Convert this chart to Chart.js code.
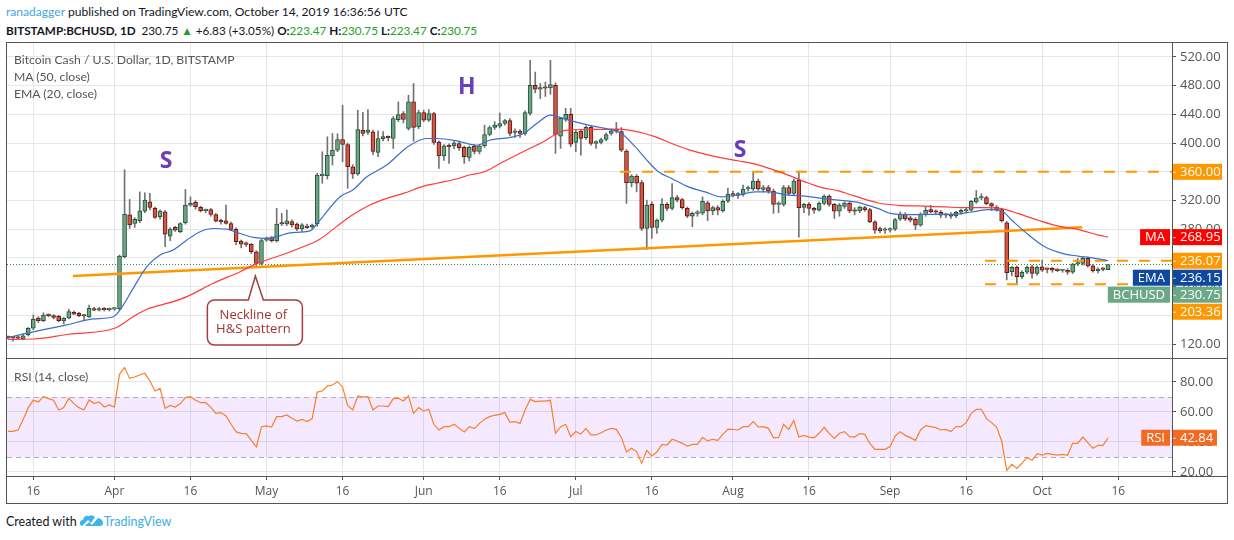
<!doctype html>
<html lang="en">
<head>
<meta charset="UTF-8" />
<title>Bitcoin Cash / U.S. Dollar, 1D, BITSTAMP</title>
<script src="https://cdn.jsdelivr.net/npm/chart.js"></script>
<style>
    body { margin: 0; width: 1234px; height: 540px; background: #fff; position: relative; overflow: hidden;
           font-family: Lato, "Noto Sans", sans-serif; color: #131722; }
    .t { position: absolute; white-space: nowrap; font-size: 12px; line-height: 16px; }
    .legend { color: #555; font-size: 12.2px; }
    .g { color: #21a121; }
    b { font-weight: bold; }
    .line { position: absolute; background: #555; }
    #frame { position: absolute; left: 6px; top: 42px; width: 1220px; height: 460px; border: 1px solid #555; }
    canvas { position: absolute; }
    #price { left: 7px; top: 43px; }
    #rsi { left: 7px; top: 359px; }
</style>
</head>
<body>
    <div class="t" style="left:6px;top:4px;font-size:12.1px"><span style="color:#45a5e2">ranadagger</span> published on TradingView.com, October 14, 2019 16:36:56 UTC</div>
    <div class="t" style="left:6px;top:22px;font-size:11.7px"><b>BITSTAMP:BCHUSD, 1D</b>&nbsp; 230.75 <span class="g">&#9650;</span> +6.83 (+3.05%) <b>O:</b><span class="g">223.47</span> <b>H:</b><span class="g">230.75</span> <b>L:</b><span class="g">223.47</span> <b>C:</b><span class="g">230.75</span></div>

    <div id="frame"></div>
    <canvas id="price" width="1221" height="315"></canvas>
    <canvas id="rsi" width="1221" height="144"></canvas>
    <div class="line" style="left:6px;top:358px;width:1222px;height:1px"></div>
    <div class="line" style="left:6px;top:476px;width:1222px;height:1px"></div>

    <div class="t legend" style="left:14px;top:52px">Bitcoin Cash / U.S. Dollar, 1D, BITSTAMP</div>
    <div class="t legend" style="left:14px;top:69px">MA (50, close)</div>
    <div class="t legend" style="left:14px;top:86px">EMA (20, close)</div>
    <div class="t legend" style="left:14px;top:369px">RSI (14, close)</div>

    <div class="t" style="left:6px;top:514px;font-size:12.5px">Created with
        <svg width="24" height="14" viewBox="0 0 24 14" style="vertical-align:-2px">
            <path d="M2 12 Q0 12 0 9 Q0 6 3 6 Q4 1 9 2 Q12 0 15 3 L11 9 L8 6 L3 11 Z" fill="#3cb4e5" />
            <path d="M5 12 L9 8 L12 11 L18 4 Q23 5 23 9 Q23 12 20 12 Z" fill="#3cb4e5" />
        </svg><span style="color:#3bb0e2">TradingView</span></div>

<script>
    // Days are counted from Mar 11, 2019 (day 0) to Oct 14, 2019 (day 217).
    const tickDays = [5, 21, 36, 51, 66, 82, 97, 112, 127, 143, 158, 174, 189, 204, 219];
    const tickLabels = ['16', 'Apr', '16', 'May', '16', 'Jun', '16', 'Jul', '16', 'Aug', '16', 'Sep', '16', 'Oct', '16'];
    const priceTicks = [120, 160, 200, 240, 280, 320, 360, 400, 440, 480, 520];
    const rsiTicks = [20, 40, 60, 80];

    const opens = [
        129.5, 129, 128.5, 127, 132.6, 141.9, 156, 152.6, 160, 159.5,
        158.6, 152.2, 156, 164, 162.8, 160, 157.8, 169.3, 167, 169.5,
        168, 168.6, 169, 241.7, 300, 288, 291.8, 305.2, 318.2, 309,
        297.4, 304.3, 270.4, 282.5, 276.7, 289, 313.6, 317.3, 310.4, 306,
        307.5, 300.5, 291.8, 291.8, 288, 279.7, 263.5, 259.3, 258.8, 248.6,
        232.4, 264.8, 268.3, 264.1, 289.2, 287.3, 290.5, 287.3, 280.4, 284.5,
        283, 287.3, 354.5, 354.5, 382, 390.2, 405, 398, 367, 357,
        418, 414.8, 415.7, 387, 406, 408, 406.4, 432.5, 441.2, 420.3,
        457.4, 422.7, 442.6, 431.9, 441.2, 400.9, 382.3, 396.2, 396.2, 399.5,
        394, 380, 395.8, 388.4, 396.2, 412, 421.7, 423.6, 427.3, 431.5,
        414.8, 416.7, 413.4, 441.2, 480.6, 475, 477.3, 476.9, 480.6, 409.8,
        433.5, 440, 401, 416.7, 407.4, 422, 399.5, 401, 405, 413.5,
        418, 416, 389, 345, 354, 345, 281, 314.5, 282.4, 292.6,
        314.5, 309, 324, 321.4, 309, 298, 302, 302.5, 316.8, 305.6,
        310, 305.6, 319, 329, 327.5, 328.6, 336, 336, 347, 335.6,
        338, 333, 314.5, 314.5, 338, 330, 348.4, 310.5, 314.5, 309,
        306.5, 316, 326, 314.5, 305, 311.9, 316.5, 306.4, 305.4, 310,
        307.3, 290.2, 281, 278.6, 278.6, 280, 293.9, 300.8, 295.7, 293.9,
        285.6, 300.3, 307.3, 305.4, 303.6, 300.3, 300.3, 298.5, 303.6, 305.4,
        306.4, 318, 323.5, 324, 315.6, 311, 307.3, 288.8, 220.8, 226.8,
        214, 220, 227.7, 218.5, 227.7, 224.5, 225.4, 223, 222.5, 223,
        220, 231.5, 232.4, 239.3, 229, 221.7, 224.5, 223.47
    ];
    const highs = [
        131, 130, 131, 134, 143, 160.5, 158, 163.5, 162, 161,
        160, 157, 168.5, 166, 164, 161, 174.4, 171, 171, 171,
        170, 170.5, 244, 363, 321.5, 296, 332, 330.8, 330, 311,
        307, 306, 282, 284, 289, 335.4, 325, 320, 312, 308,
        309, 302, 294, 313.6, 290, 282, 265, 262, 260, 250,
        266, 269, 270, 309, 302, 306.8, 293, 289, 288, 287,
        287, 358, 388, 408.8, 413.4, 413, 452.8, 400, 370, 445.8,
        443, 446.8, 418, 417, 416, 410, 437, 457.4, 444, 466.7,
        483, 446, 446, 446.8, 443, 403, 398, 399, 402, 403,
        396, 396, 398, 398, 425, 424, 430, 442, 433, 434,
        420, 419, 445, 515.4, 499, 483, 485, 515.4, 484, 436,
        448.4, 448.4, 418, 419, 424, 424, 403, 407, 414, 420,
        428.8, 421.6, 391, 356, 356, 348, 320.5, 318.2, 294, 322.8,
        317, 343.7, 327, 323, 311, 304, 306, 325, 319, 312,
        313, 321, 336.8, 333, 331, 341.4, 340, 358.6, 350, 341,
        341, 336, 318, 341, 341, 350, 361, 316, 317, 311,
        318, 328, 328, 316, 316, 318, 318, 310, 312, 312,
        309, 292, 283, 282, 282, 295, 304, 303, 298, 296,
        303, 311.9, 313.3, 307, 306, 302, 303, 305, 308, 309,
        320, 334, 329.5, 326, 317, 313, 309, 291, 228, 229,
        222, 229, 230, 229, 237, 226, 227, 225, 224, 225,
        232.4, 239.3, 241, 241, 231, 226, 226.5, 230.75
    ];
    const lows = [
        127, 124, 127, 126, 131, 140, 150, 151, 158, 155,
        151, 148, 155, 161, 158, 153.5, 157, 166.5, 166, 166,
        166, 166.8, 167, 240, 281, 282.5, 289, 303, 307, 295,
        294, 255.6, 264, 277, 275, 287, 312, 308, 304, 303,
        298, 290, 287, 287, 278, 258, 254, 256, 246, 227.8,
        230, 263, 262, 262, 285, 285, 283, 278, 276.7, 281,
        281, 284, 344, 350, 369.4, 388, 374, 337, 350.8, 355,
        410, 412, 384, 381, 403, 403, 392.5, 430, 428, 418,
        402.7, 420, 430, 430, 398, 364.7, 376, 371.7, 392, 390,
        371.7, 375, 385, 385, 394, 410, 419, 421, 425, 410,
        408, 408, 411, 439, 470, 462, 465, 468, 385.6, 392.5,
        430, 395, 388, 383.3, 405, 397, 392.6, 399, 403, 411,
        414, 388, 316, 339, 332, 278, 251.7, 267, 274, 290,
        306, 307, 318, 308, 296, 283.3, 298, 300, 292, 300,
        300, 304, 317, 325, 323, 326, 333, 334, 334, 332,
        330, 302, 303, 312, 327, 328, 269, 303, 299.6, 302,
        305, 314, 312, 295, 298, 309, 303, 300, 303, 305,
        289, 274, 275, 274, 276, 278, 292, 292, 290, 279.5,
        284, 298, 303, 301, 296, 296, 295, 296, 301, 303,
        305, 316, 321, 314, 306, 305, 290, 209.3, 215, 204.6,
        211, 218, 211.6, 216, 221, 219, 220, 221, 220, 217,
        218, 229, 230, 227, 220, 219, 222, 223.47
    ];
    const closes = [
        129, 128.5, 128, 131.3, 141.9, 154.4, 152.6, 160.2, 159.5, 157.2,
        152.6, 156.2, 165.3, 161.6, 159.6, 159, 169.8, 167, 169.3, 167.5,
        168.6, 169, 242.6, 301.1, 286, 293.6, 305.7, 320.5, 310.4, 296.4,
        305.2, 273.2, 280.2, 278.8, 288, 313.6, 316, 311.3, 305.7, 306.2,
        300.5, 291.3, 290.4, 288, 279.7, 262.6, 259.3, 258.8, 248.6, 232.4,
        264, 267.7, 264.1, 287.3, 287.3, 291.5, 286, 280.4, 286, 282.2,
        285.7, 355.5, 356.8, 382.8, 390.2, 405, 398, 367, 357, 419,
        413.4, 418, 388.4, 406.4, 409, 407.5, 434.3, 439.8, 432.9, 457.4,
        421.7, 442.6, 431.9, 441.2, 400.9, 382.3, 396.2, 394.9, 400.4, 393.5,
        381, 394, 388.4, 396.2, 412, 421.7, 425, 427.3, 431.5, 413.4,
        416.7, 413.4, 442.6, 480.6, 475, 477.3, 476.5, 481.5, 412, 434.4,
        440, 398.6, 415, 406.5, 422, 399.5, 402, 405, 412, 417,
        417, 390, 345, 354, 344, 281, 313.5, 282.4, 292.6, 314.5,
        309, 324, 320.5, 310, 298, 302, 302.5, 319, 305.6, 310,
        306.5, 319, 329, 327.5, 328.6, 336, 337.7, 347, 336, 338,
        333, 314.5, 315, 338, 330, 347, 310, 314.5, 309, 306.5,
        316, 326, 314.5, 305, 313.5, 316.5, 305.4, 305, 311, 307.3,
        290.2, 278.6, 277.7, 280, 281, 293.4, 300.8, 294.3, 292.5, 285.6,
        300.8, 306.4, 304, 303.6, 299.4, 299.4, 298, 303.6, 306.4, 307.3,
        318.8, 323.5, 324.5, 315.6, 312, 307.3, 291.6, 219.4, 226.8, 214,
        220, 226.8, 218.5, 226.8, 223, 224, 223, 222.2, 223, 220,
        231.5, 232.4, 239.3, 229, 221.7, 224.5, 223.92, 230.75
    ];

    const maDays = [0, 5, 12, 21, 24.7, 27.4, 32.6, 35.3, 40.5, 45.8, 48.4, 51, 54, 57, 61.5, 64.8, 68, 71.4,
        74.7, 78, 82, 84.6, 88.5, 91, 94, 97.7, 101.7, 105.6, 108, 110.2, 114.5, 120.4, 125, 127.6, 130.9,
        134.2, 137.5, 140.8, 144, 147.4, 150.6, 153.9, 157.2, 160.5, 163.8, 167.1, 171.7, 175.6, 179.6,
        184.8, 188.8, 192.7, 196, 199.3, 203.2, 207.2, 211.2, 215.1, 217];
    const maValues = [126.5, 127, 133.6, 141.9, 158, 168.4, 179, 186, 204.6, 220.8, 230, 237, 244, 252, 266,
        283.6, 300, 313.7, 323, 330, 340, 344, 350, 355.5, 360, 374, 388.4, 402, 412, 418, 419, 419.5,
        414.4, 409, 399.5, 391, 384.7, 379.5, 375.4, 370.7, 363.7, 355.4, 346, 338, 333.5, 326, 316.5,
        313.3, 312.4, 311, 310, 310, 308.7, 301.7, 292.5, 284.2, 279.5, 271.7, 268.95];

    const emaDays = [0, 5, 11.6, 16.8, 20.8, 22.1, 24.7, 27.4, 30, 32.6, 35.3, 37.9, 40.5, 43.1, 45.8, 48.4,
        51, 53, 55.6, 59.6, 61, 65.5, 68, 70.8, 74.7, 78.7, 82.6, 84.6, 88.5, 92.5, 95, 99, 101.7, 104.3,
        107, 109.9, 114.5, 118.4, 121, 123.7, 126.3, 128.3, 130.9, 134.2, 137.5, 140.8, 144, 147.4, 150,
        153.9, 157.2, 160.5, 163.8, 167.1, 169, 171.7, 174.3, 178.3, 182.2, 186.1, 190.1, 193.4, 196, 198,
        200.6, 204.5, 208.5, 211.1, 214.4, 217];
    const emaValues = [129, 137, 146.6, 155, 158, 167.4, 197.6, 227.8, 244, 251, 265, 276.5, 281, 280, 274,
        268.6, 267.2, 269.5, 275, 277.6, 288, 325.3, 334.6, 353, 369.4, 394, 406.4, 406.4, 403, 397, 404,
        407.8, 413.4, 427.3, 439, 433.5, 425, 419.5, 413.5, 395, 374, 360, 350.7, 339, 332, 325, 327.5,
        332, 332, 327.5, 326, 323, 320.5, 318, 314.7, 308.7, 301.7, 300.3, 300.8, 300.8, 304, 307.3,
        305.4, 292.5, 276.3, 255.5, 245.3, 242.6, 239.3, 236.15];

    const rsiValues = [
        47.1, 47.1, 48, 55, 62.9, 67.8, 66.7, 70.4, 68.9, 67.8,
        61.3, 62.9, 69.1, 65.6, 62.9, 61.3, 68, 65.6, 66.7, 63.3,
        64.7, 63.3, 85.1, 89.6, 82.4, 83.3, 84.7, 85.8, 80.7, 74,
        75.8, 62.4, 64.4, 63.3, 65.6, 69.6, 70.2, 67.8, 66.2, 66.2,
        63.3, 59.1, 59.6, 57.3, 51.8, 46.7, 45.8, 45.6, 41.1, 36.7,
        50.2, 50.7, 50, 56.9, 56.9, 58, 55.8, 54, 55.1, 53.6,
        55.6, 73.3, 74, 77.3, 78, 80.2, 76.7, 64.4, 61.3, 70.7,
        70, 70.2, 61.3, 64, 64, 63.6, 68.9, 69.1, 67.3, 70.7,
        59.1, 62.9, 60.7, 61.8, 51.8, 48, 50.2, 50.2, 51.8, 49.1,
        46.7, 50.2, 48.9, 52.4, 55.1, 56.9, 57.8, 58.4, 59.6, 53.3,
        53.6, 52.4, 61.3, 68.4, 66.9, 67.3, 67.3, 67.8, 45.8, 50,
        51.8, 43.5, 47, 45.3, 49.1, 44.7, 44.7, 46.2, 48, 49.1,
        48.4, 42.9, 33.3, 35.8, 33.6, 25.8, 34.4, 30.7, 33.3, 38.4,
        38, 41.8, 40.7, 39.1, 37.3, 38.4, 38.4, 43.1, 40.7, 41.8,
        41.1, 45.1, 48.4, 48.4, 48, 50.2, 50.2, 53.6, 50, 50.2,
        49.1, 42.7, 43.1, 51.8, 48.4, 54.4, 43.3, 44.4, 43.3, 42.7,
        45.8, 49.8, 45.6, 42.4, 45.8, 46.9, 43.6, 43.3, 45.6, 45.1,
        39.1, 35.1, 35.1, 35.1, 36.9, 44, 46.9, 44.4, 42.9, 41.1,
        48, 50.9, 50.2, 49.6, 48, 48.4, 46.9, 50.2, 50.2, 52.9,
        59.1, 61.8, 61.8, 55.6, 52.9, 50, 40.7, 21.1, 25.1, 22.4,
        25.8, 29.6, 27.8, 32.2, 31.3, 32.4, 31.8, 31.3, 31.8, 31.1,
        39.1, 39.1, 43.3, 39.6, 35.8, 37.8, 37.8, 42.84
    ];
    const rsiBand = [30, 70];

    // drawn levels and pattern marks
    const necklineDays = [12.8, 211.9];
    const necklineValues = [214.8, 282.6];
    const resistance = 360, resistanceFrom = 120.7;
    const rangeTop = 236.07, rangeBottom = 203.36, rangeFrom = 192.7, rangeBottomTo = 220.9;
    const lastPrice = 230.75, maLast = 268.95, emaLast = 236.15, rsiLast = 42.84;
    const patternLetters = ['S', 'H', 'S'];
    const letterDays = [31.2, 90.5, 144.4];
    const letterValues = [375, 478.2, 390.4];
    const calloutDay = 48.8, calloutValue = 214.8;
    const calloutLines = ['Neckline of', 'H&S pattern'];

    const xMin = -0.19, xMax = 229.6;
    const FONT = '"Open Sans", "Noto Sans", sans-serif';
    const GRID = '#e6e6e6';
    const AXIS = '#555';

    const upBody = '#6ba583', upLine = '#225437', downBody = '#d75442', downLine = '#5b1a13';
    const isUp = closes.map((c, i) => c >= opens[i]);

    function setTicks(list) {
        return scale => { scale.ticks = list.map(v => ({ value: v })); };
    }

    function flatLine(x0, x1, v) {
        return [{ x: x0, y: v }, { x: x1, y: v }];
    }

    function drawTag(ctx, right, cy, value, color, name, valueWidth) {
        ctx.fillStyle = color;
        ctx.fillRect(right + 1, cy - 8, valueWidth, 16);
        ctx.fillStyle = '#fff';
        ctx.font = '13px ' + FONT;
        ctx.textAlign = 'left';
        ctx.textBaseline = 'middle';
        ctx.fillText(value.toFixed(2), right + 8, cy + 0.5);
        ctx.fillStyle = 'rgba(255,255,255,0.7)';
        ctx.fillRect(right + 1, cy, 3, 1);
        if (name) {
            const w = ctx.measureText(name).width + 10;
            ctx.fillStyle = color;
            ctx.fillRect(right - 2 - w, cy - 8, w, 16);
            ctx.fillStyle = '#fff';
            ctx.textAlign = 'center';
            ctx.fillText(name, right - 2 - w / 2, cy + 0.5);
        }
    }

    const priceOverlay = {
        id: 'priceOverlay',
        afterDatasetsDraw(chart) {
            const { ctx, scales: { x, y } } = chart;
            ctx.save();
            ctx.fillStyle = '#6a3dbd';
            ctx.font = 'bold 23px ' + FONT;
            ctx.textAlign = 'center';
            ctx.textBaseline = 'middle';
            patternLetters.forEach((t, i) =>
                ctx.fillText(t, x.getPixelForValue(letterDays[i]), y.getPixelForValue(letterValues[i])));

            // callout pointing at the neckline
            const ax = x.getPixelForValue(calloutDay), ay = y.getPixelForValue(calloutValue);
            const l = ax - 48, r = ax + 47, t = ay + 24, b = ay + 69, rad = 7;
            ctx.beginPath();
            ctx.moveTo(l + rad, t);
            ctx.lineTo(ax - 7, t);
            ctx.lineTo(ax, ay);
            ctx.lineTo(ax + 8, t);
            ctx.lineTo(r - rad, t);
            ctx.arcTo(r, t, r, t + rad, rad);
            ctx.lineTo(r, b - rad);
            ctx.arcTo(r, b, r - rad, b, rad);
            ctx.lineTo(l + rad, b);
            ctx.arcTo(l, b, l, b - rad, rad);
            ctx.lineTo(l, t + rad);
            ctx.arcTo(l, t, l + rad, t, rad);
            ctx.closePath();
            ctx.fillStyle = '#fff';
            ctx.fill();
            ctx.strokeStyle = '#a83c3c';
            ctx.lineWidth = 1.5;
            ctx.stroke();
            ctx.fillStyle = '#a53030';
            ctx.font = '13px ' + FONT;
            ctx.fillText(calloutLines[0], ax - 2, ay + 39);
            ctx.fillText(calloutLines[1], ax - 2, ay + 53);
            ctx.restore();
        },
        afterDraw(chart) {
            const { ctx, chartArea: { right }, scales: { y } } = chart;
            const tags = [
                { value: resistance, color: '#ff9800' },
                { value: maLast, color: '#ff0000', name: 'MA' },
                { value: rangeTop, color: '#ff9800' },
                { value: emaLast, color: '#0f48a0', name: 'EMA' },
                { value: lastPrice, color: '#6aa886', name: 'BCHUSD' },
                { value: rangeBottom, color: '#ff9800' },
            ];
            ctx.save();
            let prevBottom = -Infinity;
            tags.forEach(tag => {
                const cy = Math.max(y.getPixelForValue(tag.value), prevBottom + 9);
                prevBottom = cy + 8;
                drawTag(ctx, right, cy, tag.value, tag.color, tag.name, 49);
            });
            ctx.restore();
        },
    };

    const rsiOverlay = {
        id: 'rsiOverlay',
        beforeDatasetsDraw(chart) {
            const { ctx, chartArea: a, scales: { y } } = chart;
            const yTop = y.getPixelForValue(rsiBand[1]), yBot = y.getPixelForValue(rsiBand[0]);
            ctx.save();
            ctx.fillStyle = 'rgba(153, 51, 255, 0.11)';
            ctx.fillRect(a.left, yTop, a.right - a.left, yBot - yTop);
            ctx.strokeStyle = '#b4aabf';
            ctx.lineWidth = 1;
            ctx.setLineDash([5, 4]);
            [yTop, yBot].forEach(py => {
                ctx.beginPath();
                ctx.moveTo(a.left, Math.round(py) + 0.5);
                ctx.lineTo(a.right, Math.round(py) + 0.5);
                ctx.stroke();
            });
            ctx.restore();
        },
        afterDraw(chart) {
            const { ctx, chartArea: { right }, scales: { y } } = chart;
            ctx.save();
            drawTag(ctx, right, y.getPixelForValue(rsiLast), rsiLast, '#f36b23', 'RSI', 44);
            ctx.restore();
        },
    };

    new Chart(document.getElementById('price'), {
        data: {
            datasets: [
                {
                    type: 'line', data: flatLine(xMin, xMax, lastPrice), borderColor: '#2f7d52',
                    borderWidth: 1, borderDash: [1, 2], pointRadius: 0, order: 9,
                },
                {
                    type: 'bar', data: lows.map((v, i) => ({ x: i, y: [v, highs[i]] })),
                    backgroundColor: '#737375', barThickness: 1, grouped: false, order: 8,
                },
                {
                    type: 'bar', data: opens.map((v, i) => ({ x: i, y: [v, closes[i]] })),
                    backgroundColor: isUp.map(u => (u ? upBody : downBody)),
                    borderColor: isUp.map(u => (u ? upLine : downLine)),
                    borderWidth: 1, borderSkipped: false, barThickness: 4, minBarLength: 1.5,
                    grouped: false, order: 7,
                },
                {
                    type: 'line', data: flatLine(resistanceFrom, xMax, resistance), borderColor: '#ff9800',
                    borderWidth: 2, borderDash: [11, 11], pointRadius: 0, order: 5,
                },
                {
                    type: 'line', data: flatLine(rangeFrom, xMax, rangeTop), borderColor: '#ff9800',
                    borderWidth: 2, borderDash: [11, 11], pointRadius: 0, order: 5,
                },
                {
                    type: 'line', data: flatLine(rangeFrom, rangeBottomTo, rangeBottom), borderColor: '#ff9800',
                    borderWidth: 2, borderDash: [11, 11], pointRadius: 0, order: 5,
                },
                {
                    type: 'line', data: necklineDays.map((d, i) => ({ x: d, y: necklineValues[i] })),
                    borderColor: '#ff9800', borderWidth: 2.5, pointRadius: 0, order: 4,
                },
                {
                    type: 'line', data: maDays.map((d, i) => ({ x: d, y: maValues[i] })),
                    borderColor: '#ff3b3b', borderWidth: 1.2, pointRadius: 0,
                    cubicInterpolationMode: 'monotone', order: 2,
                },
                {
                    type: 'line', data: emaDays.map((d, i) => ({ x: d, y: emaValues[i] })),
                    borderColor: '#3b6fcc', borderWidth: 1.2, pointRadius: 0,
                    cubicInterpolationMode: 'monotone', order: 1,
                },
            ],
        },
        options: {
            responsive: false,
            animation: false,
            events: [],
            layout: { padding: 0 },
            plugins: { legend: { display: false }, tooltip: { enabled: false } },
            scales: {
                x: {
                    type: 'linear', min: xMin, max: xMax, offset: false,
                    afterBuildTicks: setTicks(tickDays),
                    ticks: { display: false },
                    grid: { color: GRID, drawTicks: false, offset: false },
                    border: { display: false },
                    afterFit: s => { s.height = 0; s.paddingLeft = 0; s.paddingRight = 0; },
                },
                y: {
                    position: 'right', min: 100.5, max: 539.5,
                    afterBuildTicks: setTicks(priceTicks),
                    ticks: {
                        padding: 4, color: AXIS,
                        font: { family: FONT, size: 13 }, callback: v => v.toFixed(2),
                    },
                    grid: { color: GRID, tickColor: AXIS, tickLength: 4 },
                    border: { color: AXIS },
                    afterFit: s => { s.width = 56; s.paddingTop = 0; s.paddingBottom = 0; },
                },
            },
        },
        plugins: [priceOverlay],
    });

    new Chart(document.getElementById('rsi'), {
        type: 'line',
        data: {
            datasets: [{
                data: rsiValues.map((v, i) => ({ x: i, y: v })),
                borderColor: '#f7812a', borderWidth: 1.2, pointRadius: 0, tension: 0,
            }],
        },
        options: {
            responsive: false,
            animation: false,
            events: [],
            layout: { padding: 0 },
            plugins: { legend: { display: false }, tooltip: { enabled: false } },
            scales: {
                x: {
                    type: 'linear', min: xMin, max: xMax, offset: false,
                    afterBuildTicks: setTicks(tickDays),
                    ticks: {
                        color: AXIS, padding: 4, maxRotation: 0, autoSkip: false,
                        font: { family: FONT, size: 12 },
                        callback: v => tickLabels[tickDays.indexOf(v)] ?? '',
                    },
                    grid: { color: GRID, tickColor: AXIS, tickLength: 4 },
                    border: { color: AXIS },
                    afterFit: s => { s.height = 27; s.paddingLeft = 0; s.paddingRight = 0; },
                },
                y: {
                    position: 'right', min: 17.33, max: 95.33,
                    afterBuildTicks: setTicks(rsiTicks),
                    ticks: {
                        padding: 4, color: AXIS,
                        font: { family: FONT, size: 13 }, callback: v => v.toFixed(2),
                    },
                    grid: { color: GRID, tickColor: AXIS, tickLength: 4 },
                    border: { color: AXIS },
                    afterFit: s => { s.width = 56; s.paddingTop = 0; s.paddingBottom = 0; },
                },
            },
        },
        plugins: [rsiOverlay],
    });
</script>
</body>
</html>
